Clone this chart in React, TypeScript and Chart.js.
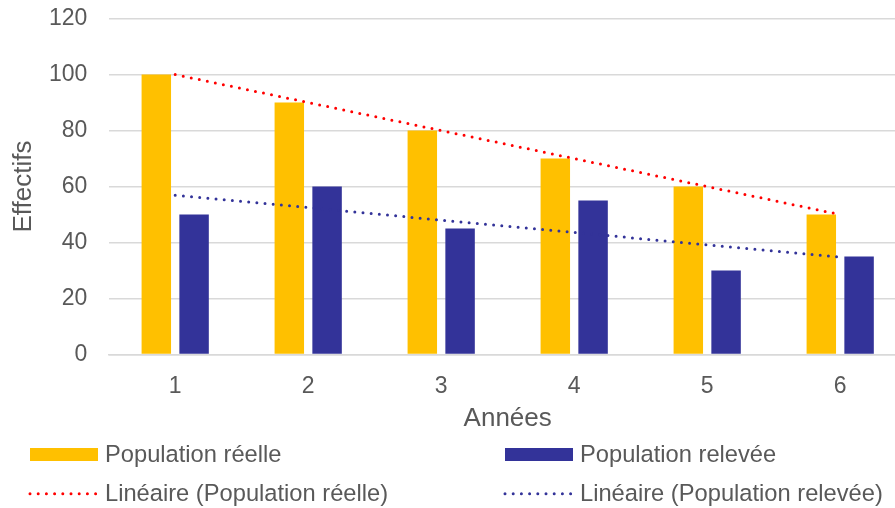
import { useEffect, useRef } from 'react';
import { Chart, registerables } from 'chart.js';

Chart.register(...registerables);

// Catégories et séries
const annees = ['1', '2', '3', '4', '5', '6'];
const populationReelle = [100, 90, 80, 70, 60, 50];
const populationRelevee = [50, 60, 45, 55, 30, 35];
// Courbes de tendance linéaire
const tendanceReelle = [100, 90, 80, 70, 60, 50];
const tendanceRelevee = [56.9, 52.5, 48.0, 43.6, 39.2, 34.8];

const labelReelle = 'Population réelle';
const labelRelevee = 'Population relevée';
const labelTendReelle = 'Linéaire (Population réelle)';
const labelTendRelevee = 'Linéaire (Population relevée)';

const FONT = "'Liberation Sans', Arial, sans-serif";
const TEXT = '#595959';
const GRID = '#D9D9D9';
const JAUNE = '#FFC000';
const BLEU = '#333399';
const ROUGE = '#FF0000';
const TICK_SIZE = 23;
const LEGEND_SIZE = 23.7;
const TITLE_SIZE = 26;

type LegendEntry = { text: string; color: string; kind: 'bar' | 'dots' };

const legendEntries: LegendEntry[] = [
  { text: labelReelle, color: JAUNE, kind: 'bar' },
  { text: labelRelevee, color: BLEU, kind: 'bar' },
  { text: labelTendReelle, color: ROUGE, kind: 'dots' },
  { text: labelTendRelevee, color: BLEU, kind: 'dots' },
];

// Légende sur deux colonnes sous le graphique
const bottomLegend = {
  id: 'bottomLegend',
  afterDraw(chart: any) {
    const ctx: CanvasRenderingContext2D = chart.ctx;
    const colX = [30, 505];
    const rowY = [454.5, 493.8];
    const swatchW = 68;
    ctx.save();
    ctx.font = `${LEGEND_SIZE}px ${FONT}`;
    ctx.textBaseline = 'alphabetic';
    ctx.textAlign = 'left';
    legendEntries.forEach((item, i) => {
      const x = colX[i % 2];
      const y = rowY[Math.floor(i / 2)];
      if (item.kind === 'bar') {
        ctx.fillStyle = item.color;
        ctx.fillRect(x, y - 6.5, swatchW, 13);
      } else {
        ctx.strokeStyle = item.color;
        ctx.lineWidth = 3;
        ctx.lineCap = 'round';
        ctx.setLineDash([0, 8.2]);
        ctx.beginPath();
        ctx.moveTo(x, y);
        ctx.lineTo(x + swatchW, y);
        ctx.stroke();
        ctx.setLineDash([]);
      }
      ctx.fillStyle = TEXT;
      ctx.fillText(item.text, x + swatchW + 7, y + 7.5);
    });
    ctx.restore();
  },
};

export default function App() {
  const canvasRef = useRef<HTMLCanvasElement | null>(null);

  useEffect(() => {
    if (!canvasRef.current) return;
    const trendStyle = (color: string) => ({
      type: 'line' as const,
      borderColor: color,
      backgroundColor: color,
      borderWidth: 3,
      borderDash: [0, 8.2],
      borderCapStyle: 'round' as const,
      pointRadius: 0,
      fill: false,
      tension: 0,
      order: 0,
    });
    const chart = new Chart(canvasRef.current, {
      type: 'bar',
      data: {
        labels: annees,
        datasets: [
          {
            label: labelReelle,
            data: populationReelle,
            backgroundColor: JAUNE,
            order: 1,
          },
          {
            label: labelRelevee,
            data: populationRelevee,
            backgroundColor: BLEU,
            order: 1,
          },
          { label: labelTendReelle, data: tendanceReelle, ...trendStyle(ROUGE) } as any,
          { label: labelTendRelevee, data: tendanceRelevee, ...trendStyle(BLEU) } as any,
        ],
      },
      options: {
        responsive: false,
        animation: false,
        datasets: {
          bar: { categoryPercentage: 0.568, barPercentage: 0.78 },
        },
        layout: { padding: { left: 0, right: 5.3, top: 18.5, bottom: 73.4 } },
        plugins: {
          legend: { display: false },
          tooltip: { enabled: false },
        },
        scales: {
          x: {
            grid: { display: false, drawTicks: false },
            border: { display: true, color: GRID, width: 1.5 },
            ticks: { color: TEXT, font: { family: FONT, size: TICK_SIZE }, padding: 18 },
            title: {
              display: true,
              text: 'Années',
              color: TEXT,
              font: { family: FONT, size: TITLE_SIZE },
              padding: { top: 0, bottom: 0 },
            },
            afterFit: (scale: any) => {
              scale.height = 80;
              scale.paddingLeft = 0;
              scale.paddingRight = 0;
            },
          },
          y: {
            min: 0,
            max: 120,
            ticks: { stepSize: 20, color: TEXT, font: { family: FONT, size: TICK_SIZE }, padding: 21.4 },
            grid: { color: GRID, lineWidth: 1.5, drawTicks: false },
            border: { display: false },
            title: {
              display: true,
              text: 'Effectifs',
              color: TEXT,
              font: { family: FONT, size: TITLE_SIZE },
              padding: { top: 8, bottom: 0 },
            },
            afterFit: (scale: any) => {
              scale.width = 108.7;
              scale.paddingTop = 0;
              scale.paddingBottom = 0;
            },
          },
        },
      },
      plugins: [bottomLegend],
    });
    return () => chart.destroy();
  }, []);

  return (
    <div
      style={{
        position: 'fixed',
        left: 0,
        top: 0,
        width: 895,
        height: 508,
        overflow: 'hidden',
        background: '#fff',
      }}
    >
      <canvas ref={canvasRef} width={912} height={508} style={{ display: 'block' }} />
    </div>
  );
}
